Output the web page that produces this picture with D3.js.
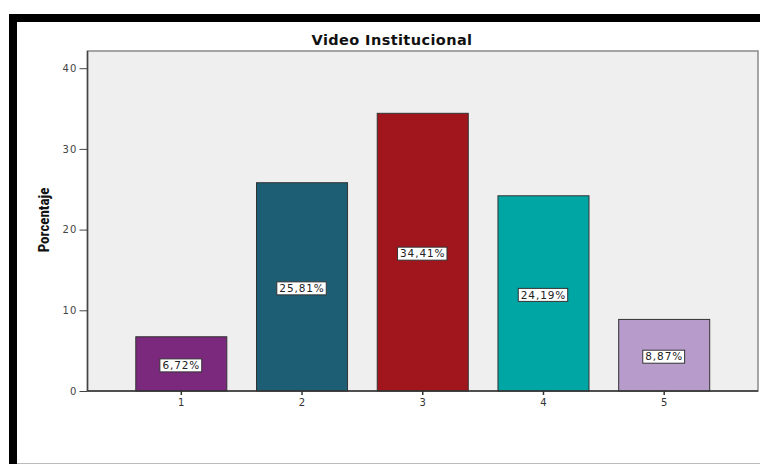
<!DOCTYPE html>
<html>
<head>
<meta charset="utf-8">
<script src="https://cdn.jsdelivr.net/npm/d3@7/dist/d3.min.js"></script>
<style>
  html, body { margin: 0; padding: 0; background: #fff; }
  svg { display: block; }
</style>
</head>
<body>
<svg id="chart" width="760" height="464"></svg>
<script>
const categories = ["1", "2", "3", "4", "5"];
const values = [6.72, 25.81, 34.41, 24.19, 8.87];
const labels = ["6,72%", "25,81%", "34,41%", "24,19%", "8,87%"];
const colors = ["#7b297c", "#1d5e75", "#a0161c", "#00a6a4", "#b79bcb"];
const yTicks = [0, 10, 20, 30, 40];
const title = "Video Institucional";
const yTitle = "Porcentaje";

const svg = d3.select("#chart");

// outer frame
svg.append("rect").attr("x", 9).attr("y", 14).attr("width", 760).attr("height", 8).attr("fill", "#000");
svg.append("rect").attr("x", 9).attr("y", 14).attr("width", 8).attr("height", 460).attr("fill", "#000");
svg.append("line").attr("x1", 17).attr("x2", 760).attr("y1", 463.5).attr("y2", 463.5)
  .attr("stroke", "#bbb").attr("stroke-width", 1);

const plot = { left: 87.5, right: 758, top: 51, bottom: 391 };

const y = d3.scaleLinear().domain([0, 40]).range([plot.bottom, 68.2]);
const x = d3.scaleBand().domain(categories).range([plot.left, plot.right])
  .paddingInner(0.246).paddingOuter(0.40);

// plot background
svg.append("rect")
  .attr("x", plot.left).attr("y", plot.top)
  .attr("width", plot.right - plot.left).attr("height", plot.bottom - plot.top)
  .attr("fill", "#efefef").attr("stroke", "#8a8a8a").attr("stroke-width", 1.5);

// title
svg.append("text")
  .attr("x", 392).attr("y", 45)
  .attr("text-anchor", "middle")
  .attr("font-family", "DejaVu Sans, Verdana, sans-serif")
  .attr("font-weight", "bold")
  .attr("font-size", 14.5)
  .attr("letter-spacing", 0.4)
  .attr("fill", "#111")
  .text(title);

// bars
svg.selectAll("rect.bar").data(values).enter().append("rect")
  .attr("class", "bar")
  .attr("x", (d, i) => x(categories[i]))
  .attr("y", d => y(d))
  .attr("width", x.bandwidth())
  .attr("height", d => y(0) - y(d))
  .attr("fill", (d, i) => colors[i])
  .attr("stroke", "#333")
  .attr("stroke-width", 1);

// y axis
const yAxis = d3.axisLeft(y).tickValues(yTicks).tickSize(8).tickPadding(2).tickFormat(d3.format("d"));
const ya = svg.append("g").attr("transform", `translate(${plot.left},0)`).call(yAxis);
ya.select(".domain").attr("stroke", "#444").attr("stroke-width", 1.5)
  .attr("d", `M0,${plot.top}V${plot.bottom}`);
ya.selectAll(".tick line").attr("stroke", "#444");
ya.selectAll(".tick text")
  .attr("font-family", "DejaVu Sans, sans-serif")
  .attr("font-size", 10)
  .attr("letter-spacing", 1.2)
  .attr("fill", "#444");

// x axis
const xAxis = d3.axisBottom(x).tickSize(4).tickPadding(4);
const xa = svg.append("g").attr("transform", `translate(0,${plot.bottom})`).call(xAxis);
xa.select(".domain").attr("stroke", "#333").attr("stroke-width", 1.5)
  .attr("d", `M${plot.left},0H${plot.right}`);
xa.selectAll(".tick line").attr("stroke", "#333").attr("stroke-width", 1.5);
xa.selectAll(".tick text")
  .attr("font-family", "DejaVu Sans, sans-serif")
  .attr("font-size", 10)
  .attr("fill", "#333");

// y title
svg.append("text")
  .attr("transform", `translate(49,220) rotate(-90)`)
  .attr("text-anchor", "middle")
  .attr("font-family", "Liberation Sans Narrow, Roboto Condensed, Arial Narrow, sans-serif")
  .attr("font-stretch", "condensed")
  .attr("font-weight", "bold")
  .attr("font-size", 15)
  .attr("fill", "#111")
  .text(yTitle);

// value labels
const lg = svg.selectAll("g.lbl").data(values).enter().append("g").attr("class", "lbl")
  .attr("transform", (d, i) => `translate(${x(categories[i]) + x.bandwidth() / 2},${(y(d) + y(0)) / 2 + 1.5})`);
lg.append("text")
  .attr("text-anchor", "middle")
  .attr("dy", "0.36em")
  .attr("font-family", "DejaVu Sans, sans-serif")
  .attr("font-size", 10.5)
  .attr("letter-spacing", 0.9)
  .attr("fill", "#222")
  .text((d, i) => labels[i]);
lg.each(function() {
  const g = d3.select(this);
  const bb = g.select("text").node().getBBox();
  g.insert("rect", "text")
    .attr("x", bb.x - 2.5).attr("y", -6.5)
    .attr("width", bb.width + 4).attr("height", 13)
    .attr("fill", "#fff").attr("stroke", "#333").attr("stroke-width", 1);
});
</script>
</body>
</html>
